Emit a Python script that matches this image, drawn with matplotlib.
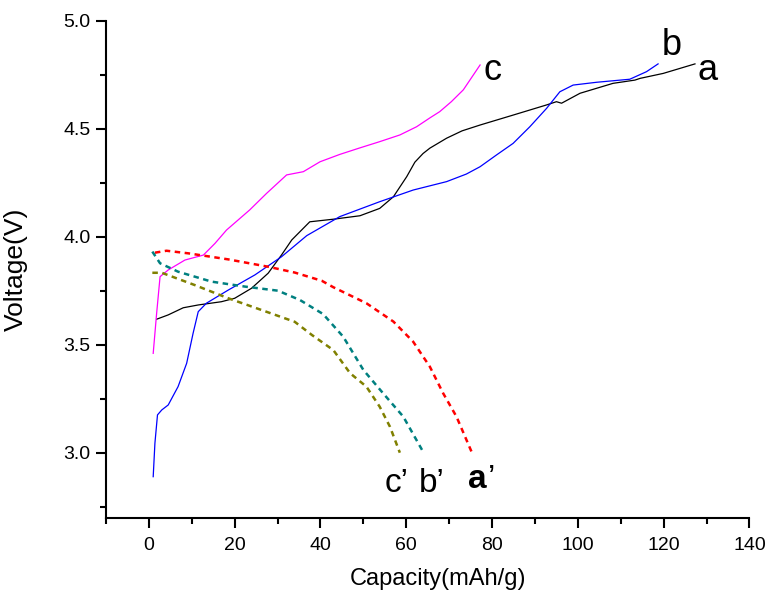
import matplotlib.pyplot as plt
from matplotlib.ticker import MultipleLocator

plt.rcParams['font.family'] = ['Liberation Sans', 'DejaVu Sans']

# charge curves (solid)
cap_a = [1.8, 4.5, 8.0, 11.5, 16.9, 20.0, 23.9, 27.8, 30.9, 33.3, 35.6, 37.5, 43.0,
         49.2, 53.8, 57.0, 60.1, 62.0, 63.9, 65.5, 69.4, 73.0, 77.2, 84.9, 92.7, 95.0,
         96.2, 100.5, 108.2, 113.3, 114.5, 119.9, 127.3]
volt_a = [3.618, 3.638, 3.671, 3.684, 3.699, 3.715, 3.761, 3.831, 3.915, 3.985, 4.031,
          4.069, 4.081, 4.097, 4.131, 4.185, 4.278, 4.345, 4.385, 4.410, 4.456, 4.490,
          4.517, 4.563, 4.610, 4.625, 4.618, 4.664, 4.710, 4.725, 4.733, 4.756, 4.800]

cap_b = [1.0, 1.4, 2.0, 3.0, 4.5, 6.8, 8.8, 10.3, 11.5, 13.4, 18.5, 24.7, 30.9, 36.8,
         44.5, 53.8, 61.6, 69.4, 74.0, 77.2, 81.0, 84.9, 88.8, 92.7, 95.8, 98.9, 104.4,
         112.1, 116.0, 118.7]
volt_b = [2.889, 3.044, 3.175, 3.198, 3.221, 3.306, 3.414, 3.553, 3.653, 3.692, 3.753,
          3.823, 3.907, 4.005, 4.093, 4.162, 4.216, 4.255, 4.290, 4.324, 4.378, 4.432,
          4.509, 4.594, 4.671, 4.702, 4.715, 4.729, 4.764, 4.800]

cap_c = [1.0, 1.8, 2.6, 4.5, 8.4, 12.7, 15.4, 18.1, 23.5, 27.4, 32.1, 36.0, 39.9, 44.5,
         49.0, 53.8, 58.5, 62.4, 65.5, 67.8, 70.5, 73.3, 77.2]
volt_c = [3.460, 3.645, 3.815, 3.846, 3.892, 3.915, 3.969, 4.031, 4.124, 4.200, 4.286,
          4.301, 4.347, 4.381, 4.410, 4.440, 4.471, 4.509, 4.550, 4.579, 4.625, 4.680,
          4.795]

# discharge curves (dashed)
cap_a2 = [1.4, 4.1, 9.2, 18.5, 27.8, 34.0, 40.3, 43.0, 50.7, 57.0, 61.6, 65.5, 68.6,
          71.7, 75.2]
volt_a2 = [3.926, 3.935, 3.923, 3.895, 3.861, 3.834, 3.796, 3.766, 3.692, 3.607, 3.514,
           3.398, 3.275, 3.167, 3.005]

cap_b2 = [0.8, 2.6, 6.8, 14.6, 22.4, 30.1, 35.2, 40.6, 45.3, 50.0, 54.6, 59.3, 63.9]
volt_b2 = [3.931, 3.877, 3.838, 3.792, 3.769, 3.750, 3.707, 3.642, 3.537, 3.383, 3.275,
           3.167, 3.005]

cap_c2 = [0.8, 3.0, 10.7, 18.5, 26.2, 34.0, 38.0, 43.0, 46.9, 50.7, 53.8, 56.2, 58.5]
volt_c2 = [3.833, 3.833, 3.776, 3.715, 3.661, 3.606, 3.545, 3.475, 3.368, 3.306, 3.213,
           3.120, 3.000]

fig = plt.figure(figsize=(7.66, 5.93), dpi=100)
ax = fig.add_axes([0.1384, 0.1273, 0.840, 0.8378])

ax.plot(cap_a, volt_a, color='black', lw=0.9)
ax.plot(cap_b, volt_b, color='#0000ff', lw=0.9)
ax.plot(cap_c, volt_c, color='#ff00ff', lw=0.9)

dash = (2.2, 1.8)
ax.plot(cap_a2, volt_a2, color='#ff0000', lw=1.8, dashes=dash)
ax.plot(cap_b2, volt_b2, color='#008080', lw=1.8, dashes=dash)
ax.plot(cap_c2, volt_c2, color='#808000', lw=1.8, dashes=dash)

# curve labels
ax.text(77.9, 4.725, 'c', fontsize=26, ha='left', va='baseline')
ax.text(119.5, 4.84, 'b', fontsize=26, ha='left', va='baseline')
ax.text(127.8, 4.725, 'a', fontsize=26, ha='left', va='baseline')
ax.text(55.0, 2.82, 'c\u2019', fontsize=24, ha='left', va='baseline')
ax.text(62.9, 2.82, 'b\u2019', fontsize=24, ha='left', va='baseline')
ax.text(74.4, 2.837, 'a', fontsize=24, fontweight='bold', ha='left', va='baseline')
ax.text(79.0, 2.837, '\u2019', fontsize=24, ha='left', va='baseline')

ax.set_xlim(-10, 140)
ax.set_ylim(2.7, 5.0)
ax.xaxis.set_major_locator(MultipleLocator(20))
ax.xaxis.set_minor_locator(MultipleLocator(10))
ax.yaxis.set_major_locator(MultipleLocator(0.5))
ax.yaxis.set_minor_locator(MultipleLocator(0.25))
ax.yaxis.set_major_formatter(plt.FormatStrFormatter('%.1f'))

for side in ['top', 'right']:
    ax.spines[side].set_visible(False)
for side in ['left', 'bottom']:
    ax.spines[side].set_linewidth(1.5)

ax.tick_params(which='major', direction='out', length=7, width=1.5, labelsize=14)
ax.tick_params(which='minor', direction='out', length=4.5, width=1.5)
ax.tick_params(axis='x', which='major', pad=7)
ax.tick_params(axis='y', which='major', pad=4)

ax.set_xlabel('Capacity(mAh/g)', fontsize=17)
ax.set_ylabel('Voltage(V)', fontsize=19)
ax.xaxis.set_label_coords(0.516, -0.102)
ax.yaxis.set_label_coords(-0.121, 0.5)

fig.savefig('out.png', dpi=100)
